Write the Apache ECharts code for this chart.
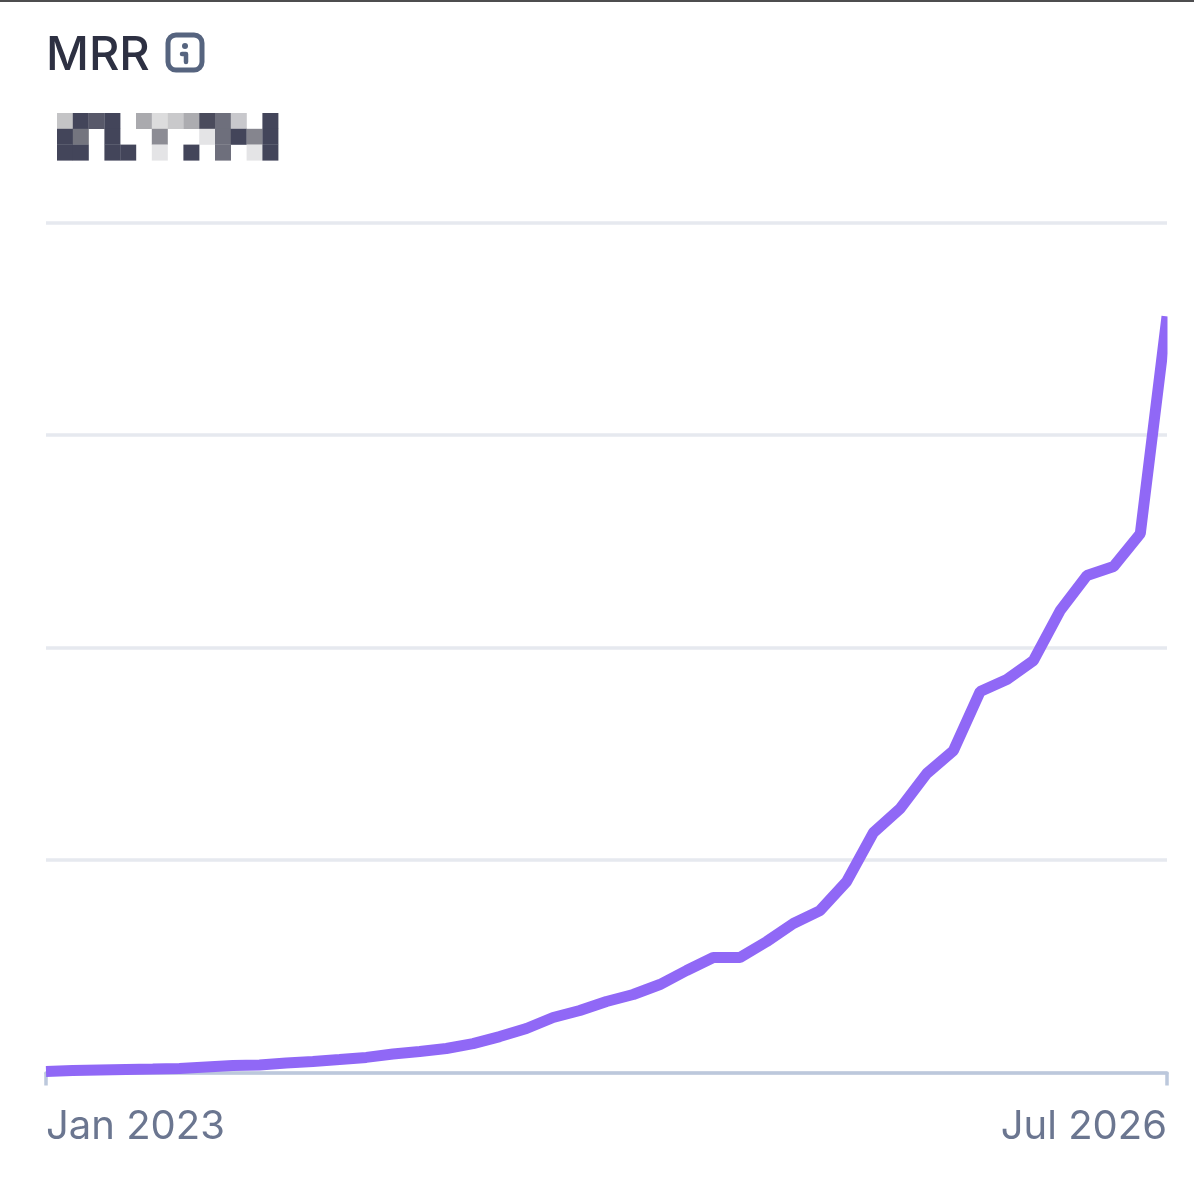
<!DOCTYPE html>
<html>
<head>
<meta charset="utf-8">
<style>html,body{margin:0;padding:0;background:#fff}#chart{width:1194px;height:1200px}</style>
<script src="https://cdn.jsdelivr.net/npm/echarts@6/dist/echarts.min.js"></script>
</head>
<body>
<div id="chart"></div>
<script>
const months = ['Jan 2023','Feb 2023','Mar 2023','Apr 2023','May 2023','Jun 2023','Jul 2023','Aug 2023','Sep 2023','Oct 2023','Nov 2023','Dec 2023',
  'Jan 2024','Feb 2024','Mar 2024','Apr 2024','May 2024','Jun 2024','Jul 2024','Aug 2024','Sep 2024','Oct 2024','Nov 2024','Dec 2024',
  'Jan 2025','Feb 2025','Mar 2025','Apr 2025','May 2025','Jun 2025','Jul 2025','Aug 2025','Sep 2025','Oct 2025','Nov 2025','Dec 2025',
  'Jan 2026','Feb 2026','Mar 2026','Apr 2026','May 2026','Jun 2026','Jul 2026'];
const mrr = [0.5,0.9,1.2,1.4,1.6,1.9,2.6,3.3,3.5,4.5,5.2,6.1,7.1,8.7,9.9,11.3,13.6,16.9,20.7,25.9,29.2,33.4,36.7,41.4,48,54.1,54.1,61.6,70.1,76.2,89.9,112.9,124.2,140.7,151.5,179.3,184.9,193.9,217.4,233.9,238.1,253.6,355.8];
const D='#43455a';
const pixelRows = [
  ['#c4c4c6',D,'#58596a',D,null,'#aaaaae','#dcdcdd','#c9c9cb','#acacb0','#4a4b5c','#6e6f7c','#c8c8cc',null,D],
  [D,'#74757f',null,D,null,null,'#8c8c94',null,null,'#e4e4e6','#6e6f7c',D,'#85858e',D],
  [D,D,null,D,D,null,'#e4e4e6',null,D,null,'#6e6f7c',null,'#e4e4e6',D]
];
const FONT = 'Inter, "Noto Sans", sans-serif';
const pixels = [];
pixelRows.forEach((row,r)=>row.forEach((c,i)=>{
  if(c) pixels.push({type:'rect',silent:true,shape:{x:57+i*15.8,y:113+r*15.8,width:16,height:16},style:{fill:c}});
}));
const chart = echarts.init(document.getElementById('chart'),null,{renderer:'canvas'});
chart.setOption({
  animation:false,
  backgroundColor:'#fff',
  title:{text:'MRR',left:46,top:32,padding:0,textStyle:{fontFamily:FONT,fontSize:47,fontWeight:500,color:'#2d3042'}},
  grid:{left:46,right:27,top:222.5,bottom:127.5,containLabel:false},
  xAxis:{type:'category',boundaryGap:false,data:months,
    axisLine:{lineStyle:{color:'#bcc8dc',width:3.5}},
    axisTick:{show:true,length:13,interval:(i)=>i===0||i===months.length-1,lineStyle:{color:'#bcc8dc',width:3.5}},
    axisLabel:{interval:(i)=>i===0||i===months.length-1,margin:34,fontFamily:FONT,fontSize:40,fontWeight:400,color:'#6b7690',alignMinLabel:'left',alignMaxLabel:'right',showMinLabel:true,showMaxLabel:true},
    splitLine:{show:false}},
  yAxis:{type:'value',min:0,max:400,interval:100,axisLine:{show:false},axisTick:{show:false},axisLabel:{show:false},
    splitLine:{lineStyle:{color:'#e6e9ef',width:3.5}}},
  series:[{type:'line',data:mrr,showSymbol:false,smooth:false,lineStyle:{color:'#9068f6',width:11,cap:'butt'},clip:true}],
  graphic:[
    {type:'rect',silent:true,shape:{x:0,y:0,width:1194,height:2},style:{fill:'#4d4d4f'}},
    {type:'rect',silent:true,z:100,shape:{x:1167.5,y:290,width:20,height:120},style:{fill:'#fff'}},
    {type:'rect',silent:true,z:100,shape:{x:30,y:1060,width:15,height:10},style:{fill:'#fff'}},
    {type:'rect',silent:true,shape:{x:168,y:35,width:34,height:35,r:8},style:{fill:'none',stroke:'#56647f',lineWidth:5}},
    {type:'circle',silent:true,shape:{cx:185,cy:46,r:3},style:{fill:'#56647f'}},
    {type:'polyline',silent:true,shape:{points:[[182,54],[186,54],[186,62]]},style:{fill:'none',stroke:'#56647f',lineWidth:4.5,lineCap:'round',lineJoin:'round'}},
    ...pixels
  ]
});
</script>
</body>
</html>
